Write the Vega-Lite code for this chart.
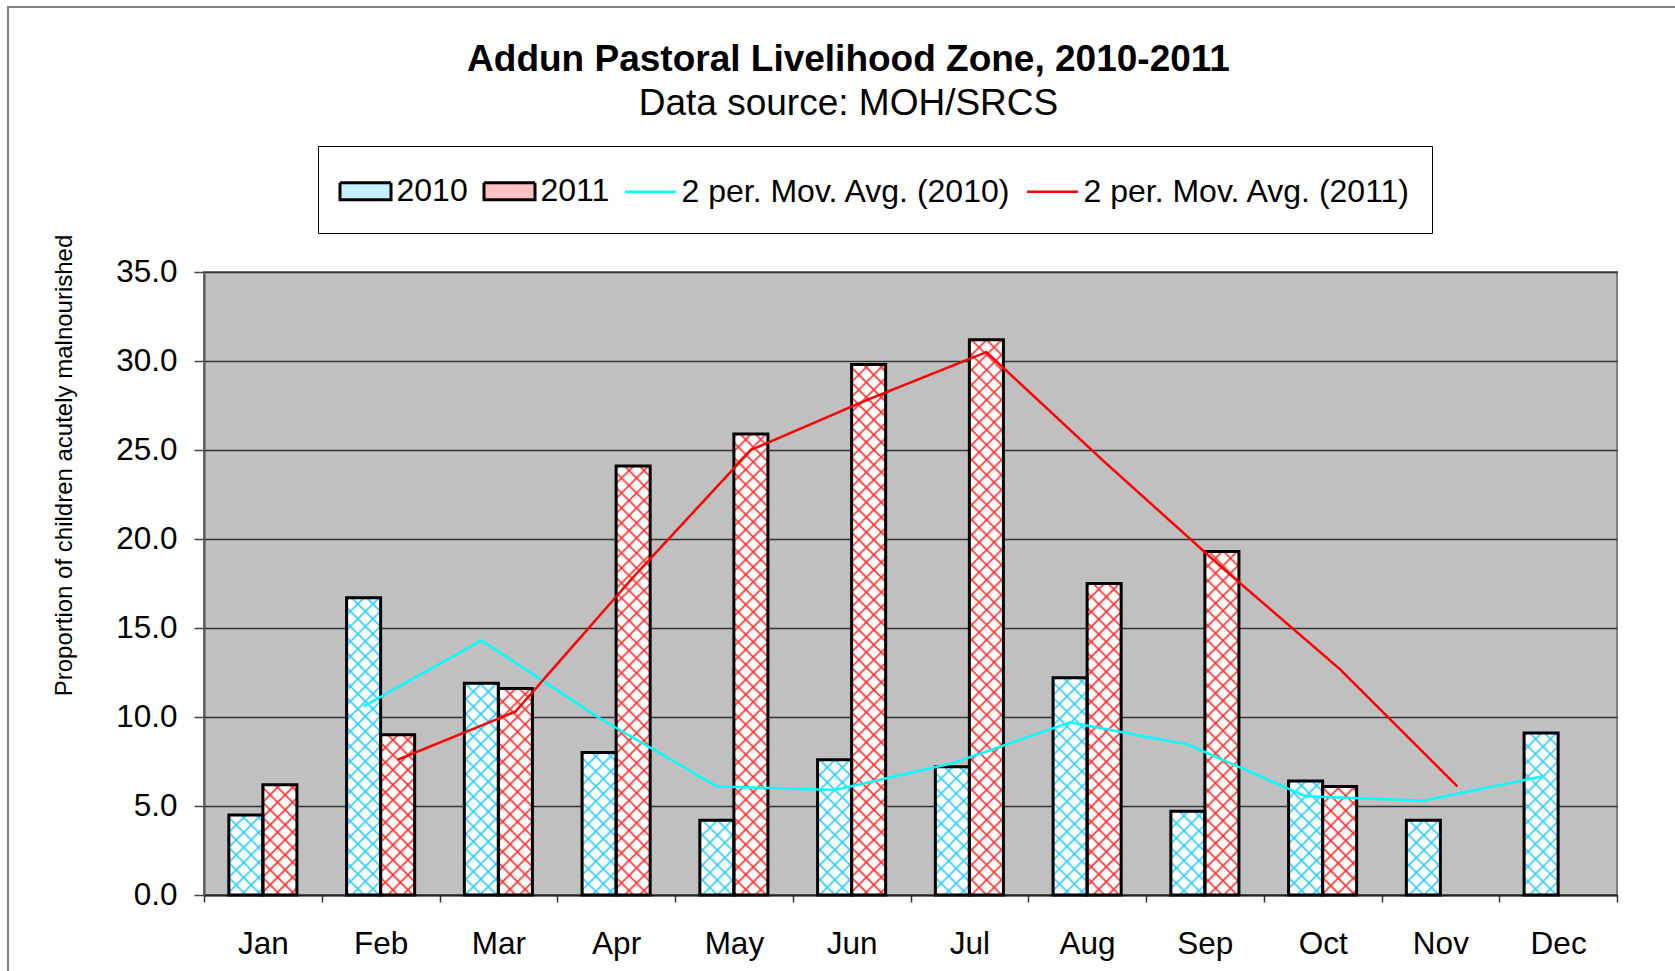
{
  "$schema": "https://vega.github.io/schema/vega-lite/v6.json",
  "width": 1413,
  "height": 623,
  "autosize": {"type": "none"},
  "padding": {"left": 204, "top": 272, "right": 58, "bottom": 76},
  "background": "white",
  "config": {
    "font": "Liberation Sans",
    "view": {"fill": "#C0C0C0", "stroke": "#808080", "strokeWidth": 2}
  },
  "params": [
    {"name": "stopsC", "value": [
      {"offset":0,"color":"#3cf0"},{"offset":0.004,"color":"#3cf"},{"offset":0.008,"color":"#3cf0"},
      {"offset":0.025,"color":"#3cf0"},{"offset":0.029,"color":"#3cf"},{"offset":0.033,"color":"#3cf0"},
      {"offset":0.05,"color":"#3cf0"},{"offset":0.054,"color":"#3cf"},{"offset":0.058,"color":"#3cf0"},
      {"offset":0.075,"color":"#3cf0"},{"offset":0.079,"color":"#3cf"},{"offset":0.083,"color":"#3cf0"},
      {"offset":0.1,"color":"#3cf0"},{"offset":0.104,"color":"#3cf"},{"offset":0.108,"color":"#3cf0"},
      {"offset":0.125,"color":"#3cf0"},{"offset":0.129,"color":"#3cf"},{"offset":0.133,"color":"#3cf0"},
      {"offset":0.15,"color":"#3cf0"},{"offset":0.154,"color":"#3cf"},{"offset":0.158,"color":"#3cf0"},
      {"offset":0.175,"color":"#3cf0"},{"offset":0.179,"color":"#3cf"},{"offset":0.183,"color":"#3cf0"},
      {"offset":0.2,"color":"#3cf0"},{"offset":0.204,"color":"#3cf"},{"offset":0.208,"color":"#3cf0"},
      {"offset":0.225,"color":"#3cf0"},{"offset":0.229,"color":"#3cf"},{"offset":0.233,"color":"#3cf0"},
      {"offset":0.25,"color":"#3cf0"},{"offset":0.254,"color":"#3cf"},{"offset":0.258,"color":"#3cf0"},
      {"offset":0.275,"color":"#3cf0"},{"offset":0.279,"color":"#3cf"},{"offset":0.283,"color":"#3cf0"},
      {"offset":0.3,"color":"#3cf0"},{"offset":0.304,"color":"#3cf"},{"offset":0.308,"color":"#3cf0"},
      {"offset":0.325,"color":"#3cf0"},{"offset":0.329,"color":"#3cf"},{"offset":0.333,"color":"#3cf0"},
      {"offset":0.35,"color":"#3cf0"},{"offset":0.354,"color":"#3cf"},{"offset":0.358,"color":"#3cf0"},
      {"offset":0.375,"color":"#3cf0"},{"offset":0.379,"color":"#3cf"},{"offset":0.383,"color":"#3cf0"},
      {"offset":0.4,"color":"#3cf0"},{"offset":0.404,"color":"#3cf"},{"offset":0.408,"color":"#3cf0"},
      {"offset":0.425,"color":"#3cf0"},{"offset":0.429,"color":"#3cf"},{"offset":0.433,"color":"#3cf0"},
      {"offset":0.45,"color":"#3cf0"},{"offset":0.454,"color":"#3cf"},{"offset":0.458,"color":"#3cf0"},
      {"offset":0.475,"color":"#3cf0"},{"offset":0.479,"color":"#3cf"},{"offset":0.483,"color":"#3cf0"},
      {"offset":0.5,"color":"#3cf0"},{"offset":0.504,"color":"#3cf"},{"offset":0.508,"color":"#3cf0"},
      {"offset":0.525,"color":"#3cf0"},{"offset":0.529,"color":"#3cf"},{"offset":0.533,"color":"#3cf0"},
      {"offset":0.55,"color":"#3cf0"},{"offset":0.554,"color":"#3cf"},{"offset":0.558,"color":"#3cf0"},
      {"offset":0.575,"color":"#3cf0"},{"offset":0.579,"color":"#3cf"},{"offset":0.583,"color":"#3cf0"},
      {"offset":0.6,"color":"#3cf0"},{"offset":0.604,"color":"#3cf"},{"offset":0.608,"color":"#3cf0"},
      {"offset":0.625,"color":"#3cf0"},{"offset":0.629,"color":"#3cf"},{"offset":0.633,"color":"#3cf0"},
      {"offset":0.65,"color":"#3cf0"},{"offset":0.654,"color":"#3cf"},{"offset":0.658,"color":"#3cf0"},
      {"offset":0.675,"color":"#3cf0"},{"offset":0.679,"color":"#3cf"},{"offset":0.683,"color":"#3cf0"},
      {"offset":0.7,"color":"#3cf0"},{"offset":0.704,"color":"#3cf"},{"offset":0.708,"color":"#3cf0"},
      {"offset":0.725,"color":"#3cf0"},{"offset":0.729,"color":"#3cf"},{"offset":0.733,"color":"#3cf0"},
      {"offset":0.75,"color":"#3cf0"},{"offset":0.754,"color":"#3cf"},{"offset":0.758,"color":"#3cf0"},
      {"offset":0.775,"color":"#3cf0"},{"offset":0.779,"color":"#3cf"},{"offset":0.783,"color":"#3cf0"},
      {"offset":0.8,"color":"#3cf0"},{"offset":0.804,"color":"#3cf"},{"offset":0.808,"color":"#3cf0"},
      {"offset":0.825,"color":"#3cf0"},{"offset":0.829,"color":"#3cf"},{"offset":0.833,"color":"#3cf0"},
      {"offset":0.85,"color":"#3cf0"},{"offset":0.854,"color":"#3cf"},{"offset":0.858,"color":"#3cf0"},
      {"offset":0.875,"color":"#3cf0"},{"offset":0.879,"color":"#3cf"},{"offset":0.883,"color":"#3cf0"},
      {"offset":0.9,"color":"#3cf0"},{"offset":0.904,"color":"#3cf"},{"offset":0.908,"color":"#3cf0"},
      {"offset":0.925,"color":"#3cf0"},{"offset":0.929,"color":"#3cf"},{"offset":0.933,"color":"#3cf0"},
      {"offset":0.95,"color":"#3cf0"},{"offset":0.954,"color":"#3cf"},{"offset":0.958,"color":"#3cf0"},
      {"offset":0.975,"color":"#3cf0"},{"offset":0.979,"color":"#3cf"},{"offset":0.983,"color":"#3cf0"}
    ]},
    {"name": "stopsR", "value": [
      {"offset":0,"color":"#f330"},{"offset":0.004,"color":"#f33"},{"offset":0.008,"color":"#f330"},
      {"offset":0.025,"color":"#f330"},{"offset":0.029,"color":"#f33"},{"offset":0.033,"color":"#f330"},
      {"offset":0.05,"color":"#f330"},{"offset":0.054,"color":"#f33"},{"offset":0.058,"color":"#f330"},
      {"offset":0.075,"color":"#f330"},{"offset":0.079,"color":"#f33"},{"offset":0.083,"color":"#f330"},
      {"offset":0.1,"color":"#f330"},{"offset":0.104,"color":"#f33"},{"offset":0.108,"color":"#f330"},
      {"offset":0.125,"color":"#f330"},{"offset":0.129,"color":"#f33"},{"offset":0.133,"color":"#f330"},
      {"offset":0.15,"color":"#f330"},{"offset":0.154,"color":"#f33"},{"offset":0.158,"color":"#f330"},
      {"offset":0.175,"color":"#f330"},{"offset":0.179,"color":"#f33"},{"offset":0.183,"color":"#f330"},
      {"offset":0.2,"color":"#f330"},{"offset":0.204,"color":"#f33"},{"offset":0.208,"color":"#f330"},
      {"offset":0.225,"color":"#f330"},{"offset":0.229,"color":"#f33"},{"offset":0.233,"color":"#f330"},
      {"offset":0.25,"color":"#f330"},{"offset":0.254,"color":"#f33"},{"offset":0.258,"color":"#f330"},
      {"offset":0.275,"color":"#f330"},{"offset":0.279,"color":"#f33"},{"offset":0.283,"color":"#f330"},
      {"offset":0.3,"color":"#f330"},{"offset":0.304,"color":"#f33"},{"offset":0.308,"color":"#f330"},
      {"offset":0.325,"color":"#f330"},{"offset":0.329,"color":"#f33"},{"offset":0.333,"color":"#f330"},
      {"offset":0.35,"color":"#f330"},{"offset":0.354,"color":"#f33"},{"offset":0.358,"color":"#f330"},
      {"offset":0.375,"color":"#f330"},{"offset":0.379,"color":"#f33"},{"offset":0.383,"color":"#f330"},
      {"offset":0.4,"color":"#f330"},{"offset":0.404,"color":"#f33"},{"offset":0.408,"color":"#f330"},
      {"offset":0.425,"color":"#f330"},{"offset":0.429,"color":"#f33"},{"offset":0.433,"color":"#f330"},
      {"offset":0.45,"color":"#f330"},{"offset":0.454,"color":"#f33"},{"offset":0.458,"color":"#f330"},
      {"offset":0.475,"color":"#f330"},{"offset":0.479,"color":"#f33"},{"offset":0.483,"color":"#f330"},
      {"offset":0.5,"color":"#f330"},{"offset":0.504,"color":"#f33"},{"offset":0.508,"color":"#f330"},
      {"offset":0.525,"color":"#f330"},{"offset":0.529,"color":"#f33"},{"offset":0.533,"color":"#f330"},
      {"offset":0.55,"color":"#f330"},{"offset":0.554,"color":"#f33"},{"offset":0.558,"color":"#f330"},
      {"offset":0.575,"color":"#f330"},{"offset":0.579,"color":"#f33"},{"offset":0.583,"color":"#f330"},
      {"offset":0.6,"color":"#f330"},{"offset":0.604,"color":"#f33"},{"offset":0.608,"color":"#f330"},
      {"offset":0.625,"color":"#f330"},{"offset":0.629,"color":"#f33"},{"offset":0.633,"color":"#f330"},
      {"offset":0.65,"color":"#f330"},{"offset":0.654,"color":"#f33"},{"offset":0.658,"color":"#f330"},
      {"offset":0.675,"color":"#f330"},{"offset":0.679,"color":"#f33"},{"offset":0.683,"color":"#f330"},
      {"offset":0.7,"color":"#f330"},{"offset":0.704,"color":"#f33"},{"offset":0.708,"color":"#f330"},
      {"offset":0.725,"color":"#f330"},{"offset":0.729,"color":"#f33"},{"offset":0.733,"color":"#f330"},
      {"offset":0.75,"color":"#f330"},{"offset":0.754,"color":"#f33"},{"offset":0.758,"color":"#f330"},
      {"offset":0.775,"color":"#f330"},{"offset":0.779,"color":"#f33"},{"offset":0.783,"color":"#f330"},
      {"offset":0.8,"color":"#f330"},{"offset":0.804,"color":"#f33"},{"offset":0.808,"color":"#f330"},
      {"offset":0.825,"color":"#f330"},{"offset":0.829,"color":"#f33"},{"offset":0.833,"color":"#f330"},
      {"offset":0.85,"color":"#f330"},{"offset":0.854,"color":"#f33"},{"offset":0.858,"color":"#f330"},
      {"offset":0.875,"color":"#f330"},{"offset":0.879,"color":"#f33"},{"offset":0.883,"color":"#f330"},
      {"offset":0.9,"color":"#f330"},{"offset":0.904,"color":"#f33"},{"offset":0.908,"color":"#f330"},
      {"offset":0.925,"color":"#f330"},{"offset":0.929,"color":"#f33"},{"offset":0.933,"color":"#f330"},
      {"offset":0.95,"color":"#f330"},{"offset":0.954,"color":"#f33"},{"offset":0.958,"color":"#f330"},
      {"offset":0.975,"color":"#f330"},{"offset":0.979,"color":"#f33"},{"offset":0.983,"color":"#f330"}
    ]}
  ],
  "title": {
    "text": "Addun Pastoral Livelihood Zone, 2010-2011",
    "subtitle": "Data source: MOH/SRCS",
    "anchor": "middle",
    "frame": "group",
    "dx": -62,
    "dy": 117,
    "offset": 0,
    "font": "Liberation Sans",
    "fontSize": 37,
    "fontWeight": "bold",
    "color": "black",
    "subtitleFont": "Liberation Sans",
    "subtitleFontSize": 37,
    "subtitleColor": "black",
    "subtitlePadding": 7
  },
  "datasets": {
    "bars": [
      {"month": "Jan", "year": "2010", "value": 4.5},
      {"month": "Jan", "year": "2011", "value": 6.2},
      {"month": "Feb", "year": "2010", "value": 16.7},
      {"month": "Feb", "year": "2011", "value": 9.0},
      {"month": "Mar", "year": "2010", "value": 11.9},
      {"month": "Mar", "year": "2011", "value": 11.6},
      {"month": "Apr", "year": "2010", "value": 8.0},
      {"month": "Apr", "year": "2011", "value": 24.1},
      {"month": "May", "year": "2010", "value": 4.2},
      {"month": "May", "year": "2011", "value": 25.9},
      {"month": "Jun", "year": "2010", "value": 7.6},
      {"month": "Jun", "year": "2011", "value": 29.8},
      {"month": "Jul", "year": "2010", "value": 7.2},
      {"month": "Jul", "year": "2011", "value": 31.2},
      {"month": "Aug", "year": "2010", "value": 12.2},
      {"month": "Aug", "year": "2011", "value": 17.5},
      {"month": "Sep", "year": "2010", "value": 4.7},
      {"month": "Sep", "year": "2011", "value": 19.3},
      {"month": "Oct", "year": "2010", "value": 6.4},
      {"month": "Oct", "year": "2011", "value": 6.1},
      {"month": "Nov", "year": "2010", "value": 4.2},
      {"month": "Dec", "year": "2010", "value": 9.1}
    ],
    "ma": [
      {"month": "Feb", "year": "2010", "value": 10.6, "series": "2 per. Mov. Avg. (2010)"},
      {"month": "Mar", "year": "2010", "value": 14.3, "series": "2 per. Mov. Avg. (2010)"},
      {"month": "Apr", "year": "2010", "value": 9.95, "series": "2 per. Mov. Avg. (2010)"},
      {"month": "May", "year": "2010", "value": 6.1, "series": "2 per. Mov. Avg. (2010)"},
      {"month": "Jun", "year": "2010", "value": 5.9, "series": "2 per. Mov. Avg. (2010)"},
      {"month": "Jul", "year": "2010", "value": 7.4, "series": "2 per. Mov. Avg. (2010)"},
      {"month": "Aug", "year": "2010", "value": 9.7, "series": "2 per. Mov. Avg. (2010)"},
      {"month": "Sep", "year": "2010", "value": 8.45, "series": "2 per. Mov. Avg. (2010)"},
      {"month": "Oct", "year": "2010", "value": 5.55, "series": "2 per. Mov. Avg. (2010)"},
      {"month": "Nov", "year": "2010", "value": 5.3, "series": "2 per. Mov. Avg. (2010)"},
      {"month": "Dec", "year": "2010", "value": 6.65, "series": "2 per. Mov. Avg. (2010)"},
      {"month": "Feb", "year": "2011", "value": 7.6, "series": "2 per. Mov. Avg. (2011)"},
      {"month": "Mar", "year": "2011", "value": 10.3, "series": "2 per. Mov. Avg. (2011)"},
      {"month": "Apr", "year": "2011", "value": 17.85, "series": "2 per. Mov. Avg. (2011)"},
      {"month": "May", "year": "2011", "value": 25.0, "series": "2 per. Mov. Avg. (2011)"},
      {"month": "Jun", "year": "2011", "value": 27.85, "series": "2 per. Mov. Avg. (2011)"},
      {"month": "Jul", "year": "2011", "value": 30.5, "series": "2 per. Mov. Avg. (2011)"},
      {"month": "Aug", "year": "2011", "value": 24.35, "series": "2 per. Mov. Avg. (2011)"},
      {"month": "Sep", "year": "2011", "value": 18.4, "series": "2 per. Mov. Avg. (2011)"},
      {"month": "Oct", "year": "2011", "value": 12.7, "series": "2 per. Mov. Avg. (2011)"},
      {"month": "Nov", "year": "2011", "value": 6.1, "series": "2 per. Mov. Avg. (2011)"}
    ]
  },
  "encoding": {
    "x": {
      "field": "month",
      "type": "nominal",
      "sort": ["Jan","Feb","Mar","Apr","May","Jun","Jul","Aug","Sep","Oct","Nov","Dec"],
      "scale": {"domain": ["Jan","Feb","Mar","Apr","May","Jun","Jul","Aug","Sep","Oct","Nov","Dec"], "paddingInner": 0, "paddingOuter": 0},
      "axis": {
        "title": null,
        "labelAngle": 0,
        "labelFont": "Liberation Sans",
        "labelFontSize": 31.5,
        "labelColor": "black",
        "labelPadding": 26,
        "tickBand": "extent",
        "tickSize": 7,
        "tickColor": "#333333",
        "tickWidth": 1.5,
        "domainColor": "#222222",
        "domainWidth": 2,
        "grid": false
      }
    },
    "xOffset": {
      "field": "year",
      "type": "nominal",
      "scale": {"domain": ["2010","2011"], "paddingInner": 0, "paddingOuter": 0.73}
    },
    "y": {
      "field": "value",
      "type": "quantitative",
      "scale": {"domain": [0, 35], "nice": false},
      "axis": {
        "title": "Proportion of children acutely malnourished",
        "titleFont": "Liberation Sans",
        "titleFontSize": 24,
        "titleFontWeight": "normal",
        "titleColor": "black",
        "titleAngle": -90,
        "titleX": -140,
        "titleY": 193,
        "titleAlign": "center",
        "titleBaseline": "middle",
        "values": [0, 5, 10, 15, 20, 25, 30, 35],
        "format": ".1f",
        "labelFont": "Liberation Sans",
        "labelFontSize": 31.5,
        "labelColor": "black",
        "labelPadding": 17,
        "tickSize": 10,
        "tickColor": "#444444",
        "tickWidth": 1.5,
        "domainColor": "#555555",
        "domainWidth": 2,
        "grid": true,
        "gridColor": "#333333",
        "gridWidth": 1.5
      }
    }
  },
  "layer": [
    {
      "data": {"name": "bars"},
      "mark": {"type": "bar", "fill": "white"}
    },
    {
      "data": {"name": "bars"},
      "mark": {"type": "bar", "fill": {"expr": "{gradient: 'linear', x1: 0, y1: 0, x2: 600*bandwidth('xOffset')/(pow(bandwidth('xOffset'),2)+pow(scale('y',0)-scale('y',datum.value),2)), y2: 600*(scale('y',0)-scale('y',datum.value))/(pow(bandwidth('xOffset'),2)+pow(scale('y',0)-scale('y',datum.value),2)), stops: datum.year == '2010' ? stopsC : stopsR}"}}
    },
    {
      "data": {"name": "bars"},
      "mark": {"type": "bar", "stroke": "black", "strokeWidth": 3, "fill": {"expr": "{gradient: 'linear', x1: 0, y1: 1, x2: 600*bandwidth('xOffset')/(pow(bandwidth('xOffset'),2)+pow(scale('y',0)-scale('y',datum.value),2)), y2: 1-600*(scale('y',0)-scale('y',datum.value))/(pow(bandwidth('xOffset'),2)+pow(scale('y',0)-scale('y',datum.value),2)), stops: datum.year == '2010' ? stopsC : stopsR}"}}
    },
    {
      "data": {"name": "ma"},
      "mark": {"type": "line", "strokeWidth": 2.5},
      "encoding": {
        "color": {
          "field": "series",
          "type": "nominal",
          "scale": {
            "domain": ["2 per. Mov. Avg. (2010)", "2 per. Mov. Avg. (2011)"],
            "range": ["#00ffff", "#ff0000"]
          },
          "legend": null
        },
        "strokeDash": {
          "field": "series",
          "type": "nominal",
          "scale": {
            "domain": ["2010", "2011", "2 per. Mov. Avg. (2010)", "2 per. Mov. Avg. (2011)"],
            "range": [[1, 0], [1, 0], [1, 0], [1, 0]]
          },
          "legend": {
            "orient": "none",
            "legendX": 114,
            "legendY": -126,
            "direction": "horizontal",
            "columns": 4,
            "title": null,
            "labelFont": "Liberation Sans",
            "labelFontSize": 32,
            "labelColor": "black",
            "labelLimit": 500,
            "labelOffset": 15,
            "symbolOffset": 10.5,
            "columnPadding": 10,
            "padding": 21,
            "symbolSize": 2601,
            "strokeColor": "black",
            "fillColor": "white",
            "encode": {
              "labels": {
                "update": {"dy": {"value": 8}}
              },
              "symbols": {
                "update": {
                  "shape": {"signal": "datum.index < 2 ? 'M-1,-0.019H1V0.647H-1ZM0,-0.6M0,0.89' : 'M-1,0.314H1M0,-0.6M0,0.89'"},
                  "fill": {"signal": "datum.index == 0 ? '#c2f0ff' : datum.index == 1 ? '#ffc2c2' : 'transparent'"},
                  "stroke": {"signal": "datum.index < 2 ? 'black' : datum.index == 2 ? '#00ffff' : '#ff0000'"},
                  "strokeWidth": {"signal": "datum.index < 2 ? 3 : 2.5"},
                  "opacity": {"value": 1}
                }
              }
            }
          }
        },
        "strokeWidth": {
          "field": "year",
          "type": "ordinal",
          "scale": {"domain": ["2010", "2011"], "range": [2.5, 2.5]},
          "legend": {
            "orient": "none",
            "legendX": -196,
            "legendY": -265,
            "padding": 1200,
            "title": null,
            "strokeColor": "#808080",
            "fillColor": null,
            "labelExpr": "''",
            "labelOpacity": 0,
            "symbolOpacity": 0,
            "encode": {
              "legend": {"update": {"strokeWidth": {"value": 2}}}
            }
          }
        }
      }
    }
  ]
}
